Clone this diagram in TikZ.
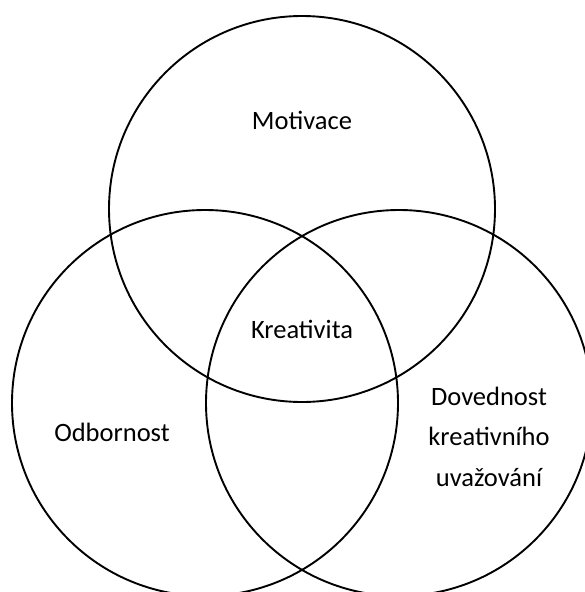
\documentclass[tikz,border=0pt]{standalone}
\usepackage{fontspec}
\setmainfont{Carlito}
\begin{document}
\begin{tikzpicture}[x=1pt,y=-1pt,
    kruh/.style={line width=1.9pt},
    popis/.style={font=\fontsize{26.5}{40.5}\selectfont, inner sep=0pt, anchor=base, align=center}]
    % hranice obrazku
    \useasboundingbox ( 0, 0 ) rectangle ( 585, 592 );
    \clip ( 0, 0 ) rectangle ( 585, 592 );

    % kruhy
    \draw [kruh] ( 302, 209 ) circle [ radius = 193 ];
    \draw [kruh] ( 205, 403 ) circle [ radius = 193 ];
    \draw [kruh] ( 399, 403 ) circle [ radius = 193 ];

    % popisky
    \node [popis] (motivace) at ( 302, 129 ) {Motivace};
    \node [popis] (kreativita) at ( 302, 338 ) {Kreativita};
    \node [popis] (odbornost) at ( 112, 441 ) {Odbornost};
    % u viceradkoveho popisku je base na poslednim radku
    \node [popis] (dovednost) at ( 489, 486 ) {Dovednost\\kreativního\\uvažování};
\end{tikzpicture}
\end{document}
